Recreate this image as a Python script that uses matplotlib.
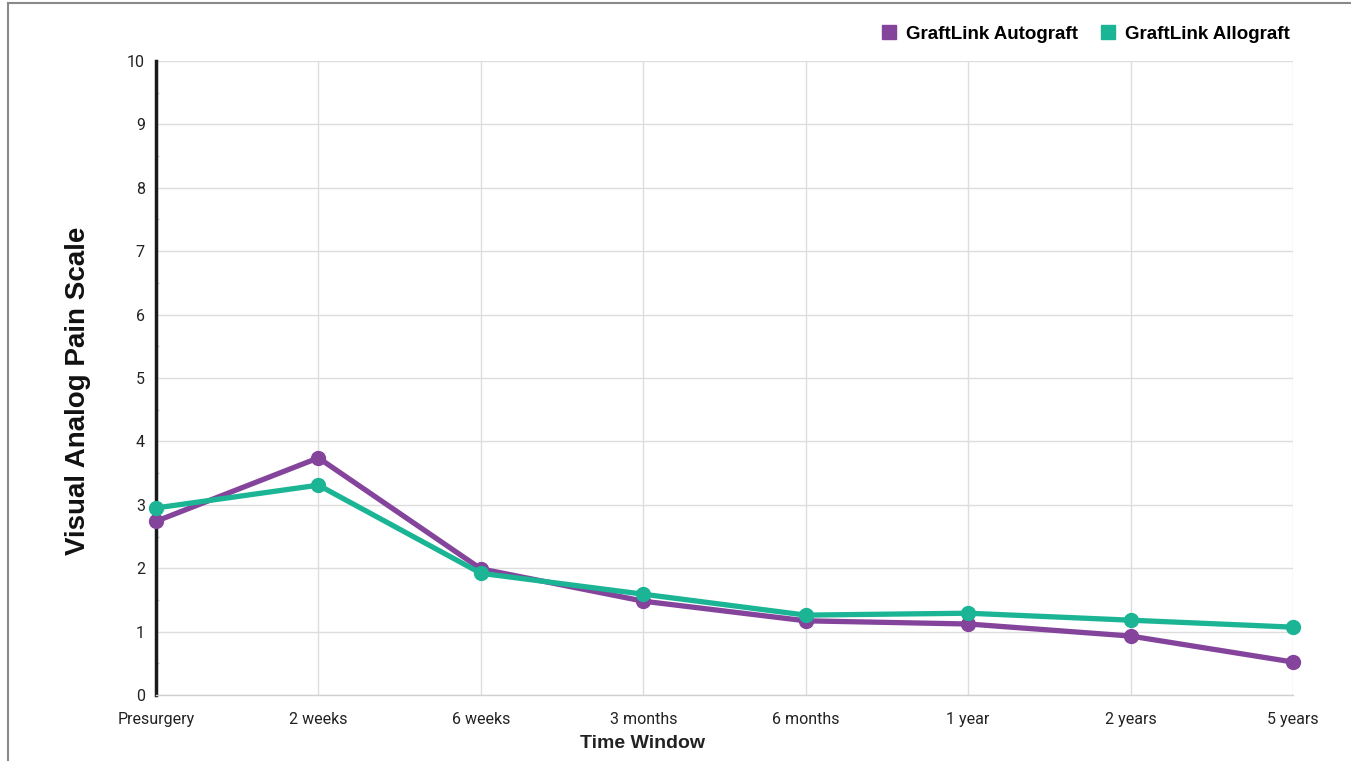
import matplotlib.pyplot as plt
from matplotlib.lines import Line2D
from matplotlib.ticker import MultipleLocator

# time windows and pain scores
windows = ['Presurgery', '2 weeks', '6 weeks', '3 months', '6 months', '1 year', '2 years', '5 years']
autograft = [2.74, 3.74, 1.99, 1.48, 1.17, 1.12, 0.93, 0.52]
allograft = [2.95, 3.31, 1.92, 1.59, 1.26, 1.29, 1.18, 1.07]

purple = '#84449b'
teal = '#1bb595'
W, H = 1351, 761

fig = plt.figure(figsize=(13.51, 7.61), dpi=100)
ax = fig.add_axes([156 / W, 1 - 695 / H, (1293 - 156) / W, (695 - 61) / H])

x = list(range(len(windows)))
ax.plot(x, autograft, color=purple, lw=3.8, marker='o', ms=10, zorder=3, clip_on=False,
        solid_joinstyle='round')
ax.plot(x, allograft, color=teal, lw=3.8, marker='o', ms=10, zorder=3, clip_on=False,
        solid_joinstyle='round')

tick_font = {'family': 'Roboto', 'size': 11.5}
ax.set_xlim(0, len(windows) - 1)
ax.set_ylim(0, 10)
ax.set_xticks(x)
ax.set_xticklabels(windows, fontdict=tick_font, color='#222222')
ax.set_yticks(range(0, 11))
ax.set_yticklabels([str(v) for v in range(0, 11)], fontdict=tick_font, color='#222222')
ax.yaxis.set_minor_locator(MultipleLocator(0.5))
ax.tick_params(axis='both', which='major', length=0)
ax.tick_params(axis='x', pad=12)
ax.tick_params(axis='y', pad=8)
ax.tick_params(axis='y', which='minor', length=2, color='#cccccc', direction='in', width=1)

ax.grid(True, color='#dddddd', lw=1)
ax.set_axisbelow(True)
for s in ['top', 'right']:
    ax.spines[s].set_visible(False)
ax.spines['bottom'].set_color('#d0d0d0')
ax.spines['bottom'].set_linewidth(1)
ax.spines['left'].set_color('#1a1a1a')
ax.spines['left'].set_linewidth(2.5)

fig.text(643 / W, 1 - 744 / H, 'Time Window', ha='center', va='center',
         fontfamily='Liberation Sans', fontweight='bold', fontsize=14, color='#222222')
fig.text(78 / W, 1 - 391 / H, 'Visual Analog Pain Scale', ha='center', va='center',
         rotation=90, fontfamily='Liberation Sans', fontweight='bold', fontsize=20,
         color='#111111')

handles = [Line2D([], [], color=purple, marker='s', ls='none', ms=10.5),
           Line2D([], [], color=teal, marker='s', ls='none', ms=10.5)]
fig.legend(handles, ['GraftLink Autograft', 'GraftLink Allograft'], loc='center right',
           bbox_to_anchor=(1297 / W, 1 - 34 / H), ncol=2, frameon=False,
           prop={'family': 'Liberation Sans', 'weight': 'bold', 'size': 13.5},
           handletextpad=0.4, columnspacing=1.1, handlelength=1.0, borderaxespad=0)

# outer frame (top and left edges)
fig.add_artist(Line2D([8 / W, 8 / W], [0, 1 - 3 / H], transform=fig.transFigure,
                      color='#8a8a8a', lw=1.5))
fig.add_artist(Line2D([8 / W, 1], [1 - 3 / H, 1 - 3 / H], transform=fig.transFigure,
                      color='#8a8a8a', lw=1.5))

fig.savefig('out.png', dpi=100)
